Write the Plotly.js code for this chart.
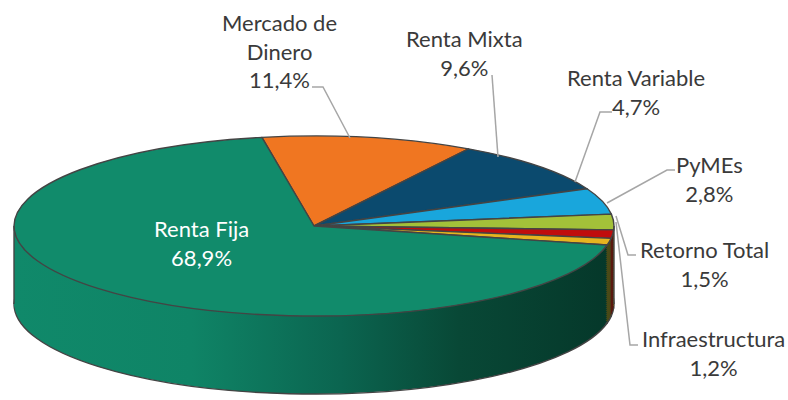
<!DOCTYPE html>
<html>
<head>
<meta charset="utf-8">
<script src="https://cdn.plot.ly/plotly-3.0.1.min.js"></script>
<style>
html,body{margin:0;padding:0;background:#ffffff;}
#chart{width:788px;height:400px;}
</style>
</head>
<body>
<div id="chart"></div>
<script>
// ---- data ----
const categories = ['Mercado de Dinero', 'Renta Mixta', 'Renta Variable', 'PyMEs', 'Retorno Total', 'Infraestructura', 'Renta Fija'];
const shares = [11.4, 9.6, 4.7, 2.8, 1.5, 1.2, 68.9];
const labelLines = [['Mercado de', 'Dinero'], ['Renta Mixta'], ['Renta Variable'], ['PyMEs'], ['Retorno Total'], ['Infraestructura'], ['Renta Fija']];

// ---- styles ----
const topColors = ['#f07621', '#0b4a6e', '#19a6dc', '#a3c139', '#c00d0d', '#e6b41f', '#118b6b'];
const sideColors = ['#a44f12', '#062f48', '#0f6a92', '#6a7e22', '#5a1a10', '#4a4a18', '#0c6a52'];
const labelPos = [[279, 51], [464, 53], [636, 92], [709, 179], [704, 264], [713, 353], [201, 243]];
const labelColor = ['#3a3a3a', '#3a3a3a', '#3a3a3a', '#3a3a3a', '#3a3a3a', '#3a3a3a', '#ffffff'];
const leaders = [
  [[312, 87], [323, 87], [350, 138]],
  [[492, 75], [498, 157]],
  [[612, 112], [600, 112], [575, 182]],
  [[675, 170], [667, 170], [607, 203]],
  [[636, 255], [628, 255], [616, 216]],
  [[638, 345], [630, 345], [616, 222]]
];

const W = 788, H = 400;
const CX = 314, CY = 226, RX = 300, RY = 90, DEPTH = 78, STEP = 2;

const fmt = v => v.toFixed(1).replace('.', ',') + '%';
const px = x => x / W;
const py = y => 1 - y / H;

// stacked copies of the pie make the side of the cylinder, top face drawn last
const offsets = [];
for (let d = DEPTH; d > 0; d -= STEP) offsets.push(d);
offsets.push(0);

const traces = offsets.map((d, i) => ({
  type: 'pie',
  labels: categories,
  values: shares,
  sort: false,
  direction: 'clockwise',
  rotation: -10,
  textinfo: 'none',
  hoverinfo: 'none',
  showlegend: false,
  domain: {x: [0.3, 0.7], y: [0, 1]},
  marker: {
    colors: d === 0 ? topColors : sideColors,
    line: {color: '#444444', width: (d === 0 || i === 0) ? 1.4 : 0}
  }
}));

const annotations = categories.map((c, i) => ({
  xref: 'paper', yref: 'paper',
  x: px(labelPos[i][0]), y: py(labelPos[i][1]),
  xanchor: 'center', yanchor: 'middle',
  showarrow: false,
  align: 'center',
  text: labelLines[i].concat([fmt(shares[i])]).join('<br>'),
  font: {family: 'Lato, "Open Sans", sans-serif', size: 22, color: labelColor[i]}
}));

const shapes = leaders.map(pts => ({
  type: 'path', xref: 'paper', yref: 'paper', layer: 'above',
  path: pts.map((p, k) => (k ? 'L' : 'M') + px(p[0]) + ',' + py(p[1])).join(' '),
  line: {color: '#a6a6a6', width: 1.5}
}));
[CX - RX, CX + RX].forEach(x => shapes.push({
  type: 'line', xref: 'paper', yref: 'paper', layer: 'above',
  x0: px(x), x1: px(x), y0: py(CY), y1: py(CY + DEPTH),
  line: {color: '#444444', width: 1.4}
}));

const layout = {
  width: W, height: H,
  margin: {l: 0, r: 0, t: 0, b: 0},
  paper_bgcolor: '#ffffff',
  plot_bgcolor: '#ffffff',
  showlegend: false,
  annotations: annotations,
  shapes: shapes
};

function warp() {
  const gd = document.getElementById('chart');
  const svg = gd.querySelector('.main-svg');
  let defs = svg.querySelector('defs');
  if (!document.getElementById('sideGrad')) {
    const ns = 'http://www.w3.org/2000/svg';
    const grad = document.createElementNS(ns, 'linearGradient');
    grad.setAttribute('id', 'sideGrad');
    grad.setAttribute('x1', '0'); grad.setAttribute('x2', '1');
    grad.setAttribute('y1', '0'); grad.setAttribute('y2', '0');
    [[0, '#10896a'], [0.3, '#0f8466'], [0.55, '#0b6550'], [0.75, '#084836'], [1, '#05382a']].forEach(s => {
      const st = document.createElementNS(ns, 'stop');
      st.setAttribute('offset', s[0]);
      st.setAttribute('stop-color', s[1]);
      grad.appendChild(st);
    });
    defs.appendChild(grad);
  }
  const groups = gd.querySelectorAll('.pielayer .trace');
  groups.forEach((g, i) => {
    const cd = gd.calcdata[i][0];
    const r = cd.r, cx = cd.cx, cy = cd.cy;
    g.setAttribute('transform',
      'translate(' + CX + ',' + (CY + offsets[i]) + ') scale(' + (RX / r) + ',' + (RY / r) + ') translate(' + (-cx) + ',' + (-cy) + ')');
    g.querySelectorAll('path').forEach(p => p.setAttribute('vector-effect', 'non-scaling-stroke'));
    if (offsets[i] !== 0) {
      g.querySelectorAll('.slice').forEach((s, k) => {
        const pt = s.__data__;
        const idx = pt && pt.i !== undefined ? pt.i : k;
        if (idx === 6) {
          s.querySelectorAll('path.surface').forEach(p => { p.style.fill = 'url(#sideGrad)'; });
        }
      });
    }
  });
}

Plotly.newPlot('chart', traces, layout, {staticPlot: true, displayModeBar: false}).then(gd => {
  warp();
  gd.on('plotly_afterplot', warp);
});
</script>
</body>
</html>
